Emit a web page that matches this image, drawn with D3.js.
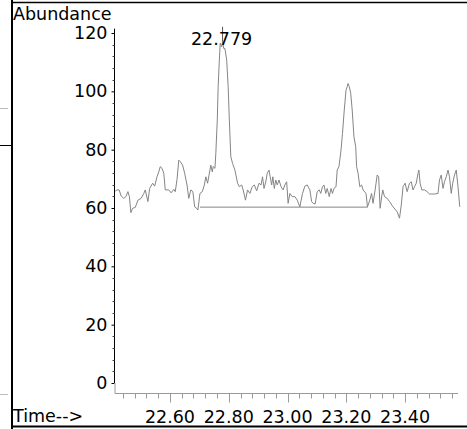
<!DOCTYPE html>
<html lang="en">

<head>
    <meta charset="utf-8">
    <title>Chromatogram</title>
    <script type="text/javascript" src="https://d3js.org/d3.v7.min.js"></script>
    <style type="text/css">
        body {
            margin: 0;
            background: #fff;
        }

        text {
            font-family: "DejaVu Sans", sans-serif;
            font-size: 17.5px;
            fill: #000;
        }
    </style>
</head>

<body>
    <svg width="467" height="429"></svg>
    <script type="text/javascript">
        //Retention time (min) and abundance
        const times = [22.414, 22.420, 22.427, 22.434, 22.443, 22.450, 22.457, 22.462, 22.467, 22.473,
            22.482, 22.491, 22.502, 22.511, 22.516, 22.525, 22.531, 22.541, 22.548, 22.556,
            22.562, 22.567, 22.573, 22.579, 22.584, 22.596, 22.604, 22.613, 22.618, 22.624,
            22.630, 22.635, 22.643, 22.650, 22.658, 22.664, 22.671, 22.678, 22.684, 22.690,
            22.695, 22.702, 22.710, 22.717, 22.722, 22.728, 22.733, 22.739, 22.744, 22.747,
            22.753, 22.756, 22.761, 22.764, 22.768, 22.771, 22.776, 22.779, 22.783, 22.787,
            22.793, 22.798, 22.802, 22.807, 22.813, 22.821, 22.830, 22.836, 22.844, 22.849,
            22.857, 22.864, 22.872, 22.880, 22.887, 22.895, 22.903, 22.910, 22.915, 22.920,
            22.926, 22.931, 22.937, 22.941, 22.946, 22.950, 22.955, 22.960, 22.965, 22.971,
            22.978, 22.985, 22.991, 22.997, 23.002, 23.008, 23.016, 23.025, 23.033, 23.042,
            23.051, 23.059, 23.067, 23.076, 23.082, 23.087, 23.094, 23.101, 23.108, 23.113,
            23.119, 23.124, 23.130, 23.135, 23.142, 23.148, 23.153, 23.158, 23.165, 23.169,
            23.175, 23.182, 23.187, 23.193, 23.199, 23.203, 23.206, 23.210, 23.215, 23.220,
            23.226, 23.232, 23.235, 23.240, 23.246, 23.252, 23.257, 23.267, 23.272, 23.280,
            23.286, 23.291, 23.298, 23.305, 23.310, 23.315, 23.321, 23.324, 23.330, 23.339,
            23.347, 23.359, 23.373, 23.381, 23.387, 23.393, 23.400, 23.407, 23.415, 23.421,
            23.427, 23.432, 23.438, 23.444, 23.447, 23.451, 23.457, 23.466, 23.475, 23.483,
            23.500, 23.512, 23.517, 23.523, 23.529, 23.534, 23.540, 23.546, 23.551, 23.557,
            23.562, 23.568, 23.574, 23.580, 23.586]
        const abundance = [65.8, 66.2, 66.2, 64.1, 63.3, 63.9, 65.6, 63.9, 58.4, 59.9,
            60.2, 62.7, 63.3, 65.0, 66.2, 62.2, 66.7, 68.5, 67.5, 70.7,
            72.4, 74.2, 73.6, 71.9, 66.2, 66.2, 65.2, 66.4, 65.6, 69.8,
            76.4, 75.9, 74.7, 71.9, 67.9, 63.3, 66.2, 65.6, 60.4, 60.0,
            59.3, 65.0, 65.6, 67.9, 70.7, 68.5, 71.3, 74.7, 72.4, 74.2,
            73.6, 78.7, 90.2, 101.6, 110.7, 116.5, 115.3, 117.0, 114.7, 114.7,
            110.7, 101.6, 90.2, 77.6, 75.3, 73.0, 68.5, 67.3, 67.9, 66.2,
            62.7, 66.2, 65.0, 67.3, 67.9, 65.9, 68.5, 67.9, 70.7, 66.7,
            69.0, 71.9, 73.0, 70.7, 67.9, 70.7, 66.7, 69.6, 67.9, 69.6,
            67.3, 66.2, 67.9, 69.0, 61.6, 65.0, 63.9, 63.9, 62.7, 60.4,
            65.0, 67.5, 67.9, 66.2, 62.2, 61.6, 61.4, 65.6, 66.2, 65.0,
            67.3, 67.9, 65.0, 66.7, 63.9, 66.7, 65.0, 66.7, 67.3, 73.0,
            74.2, 79.9, 85.6, 93.6, 100.4, 101.6, 102.7, 101.6, 99.3, 93.6,
            84.4, 81.0, 74.2, 71.9, 67.3, 67.9, 66.2, 65.0, 60.4, 62.7,
            65.0, 61.6, 66.2, 71.3, 70.7, 59.9, 64.4, 66.2, 63.9, 63.3,
            62.2, 60.4, 58.7, 56.5, 61.0, 67.3, 68.5, 65.6, 68.5, 69.0,
            66.2, 67.3, 68.5, 71.9, 73.0, 68.5, 66.2, 66.2, 65.6, 64.8,
            64.8, 65.0, 69.6, 71.3, 66.7, 69.0, 70.7, 73.0, 70.7, 65.0,
            68.5, 71.3, 73.0, 67.3, 60.4]

        //Integration baseline and labelled peak
        const baselineTimes = [22.702, 23.273]
        const baselineValues = [60.3, 60.3]
        const peakTime = 22.779
        const peakValue = 117.0
        const peakLabel = "22.779"

        //Axis ticks
        const yTickValues = [0, 20, 40, 60, 80, 100, 120]
        const xTickValues = [22.60, 22.80, 23.00, 23.20, 23.40]

        const svg = d3.select("svg");
        const w = 467;
        const h = 429;
        const traceColor = "#858585";
        const axisGray = "#9a9a9a";

        const xScale = d3.scaleLinear()
            .domain([22.413, 23.58])
            .range([115, 458]);

        const yScale = d3.scaleLinear()
            .domain([0, 120])
            .range([383, 33]);

        //Page frame left over from the printout
        svg.append("rect").attr("x", 11).attr("y", 0).attr("width", 2).attr("height", h).attr("fill", "#000");
        svg.append("line").attr("x1", 12).attr("x2", w).attr("y1", 2.5).attr("y2", 2.5)
            .attr("stroke", "#000").attr("stroke-width", 1.5);
        svg.append("line").attr("x1", 12).attr("x2", w).attr("y1", 426.5).attr("y2", 426.5)
            .attr("stroke", "#000").attr("stroke-width", 2);
        svg.append("line").attr("x1", 0).attr("x2", 11).attr("y1", 145.5).attr("y2", 145.5)
            .attr("stroke", "#000");
        [108.5, 394.5].forEach(yy => {
            svg.append("line").attr("x1", 0).attr("x2", 8).attr("y1", yy).attr("y2", yy)
                .attr("stroke", "#bbb");
        })

        //Y axis (black, minor ticks every 4)
        const leftAxis = d3.axisLeft(yScale)
            .tickValues(yTickValues)
            .tickSize(3)
            .tickPadding(4)
            .tickFormat(d3.format("d"));

        const yAxisG = svg.append("g")
            .attr("transform", "translate(114.5,0)")
            .call(leftAxis)
            .call(g => g.select(".domain").remove())
            .call(g => g.selectAll(".tick text")
                .attr("font-family", "DejaVu Sans, sans-serif")
                .attr("font-size", 17.5)
                .attr("fill", "#000"))
            .call(g => g.selectAll(".tick line").attr("stroke", "#000"));

        yAxisG.append("line")
            .attr("y1", yScale(121.5))
            .attr("y2", yScale(0))
            .attr("stroke", "#000");

        yAxisG.selectAll(".minor")
            .data(d3.range(4, 120, 4).filter(v => v % 20 !== 0))
            .enter()
            .append("line")
            .attr("x1", -2)
            .attr("x2", 0)
            .attr("y1", d => Math.round(yScale(d)) + 0.5)
            .attr("y2", d => Math.round(yScale(d)) + 0.5)
            .attr("stroke", "#444");

        //X axis (gray, 10px below zero)
        const xAxisY = 393.5;
        const xAxisG = svg.append("g")
            .attr("transform", "translate(0," + xAxisY + ")");

        xAxisG.append("path")
            .attr("d", "M" + xScale.range()[0] + "," + (yScale(0) - xAxisY) + "V0H" + xScale.range()[1])
            .attr("fill", "none")
            .attr("stroke", axisGray);

        const minorTimes = d3.range(0, 29).map(i => 22.44 + i * 0.04);
        xAxisG.selectAll(".xminor")
            .data(minorTimes)
            .enter()
            .append("line")
            .attr("x1", d => Math.round(xScale(d)) + 0.5)
            .attr("x2", d => Math.round(xScale(d)) + 0.5)
            .attr("y1", 0)
            .attr("y2", d => xTickValues.some(t => Math.abs(t - d) < 1e-6) ? 9 : 5)
            .attr("stroke", axisGray);

        xAxisG.selectAll(".xlabel")
            .data(xTickValues)
            .enter()
            .append("text")
            .attr("x", d => xScale(d))
            .attr("y", 29)
            .attr("text-anchor", "middle")
            .text(d => d3.format(".2f")(d));

        //Axis titles
        svg.append("text").attr("x", 13).attr("y", 20).text("Abundance");
        svg.append("text").attr("x", 13).attr("y", 422).text("Time-->");

        //Trace
        const points = times.map((t, i) => ({ t: t, v: abundance[i] }));
        const line = d3.line()
            .x(d => xScale(d.t))
            .y(d => yScale(d.v));

        svg.append("path")
            .datum(points)
            .attr("d", line)
            .attr("fill", "none")
            .attr("stroke", traceColor)
            .attr("stroke-width", 1);

        //Integration baseline
        svg.append("path")
            .datum(baselineTimes.map((t, i) => ({ t: t, v: baselineValues[i] })))
            .attr("d", line)
            .attr("fill", "none")
            .attr("stroke", traceColor)
            .attr("stroke-width", 1);

        //Peak marker and label
        svg.append("line")
            .attr("x1", xScale(peakTime))
            .attr("x2", xScale(peakTime))
            .attr("y1", yScale(peakValue))
            .attr("y2", yScale(peakValue) - 15)
            .attr("stroke", "#555");

        svg.append("text")
            .attr("x", xScale(peakTime) - 1)
            .attr("y", yScale(peakValue) + 3)
            .attr("text-anchor", "middle")
            .text(peakLabel);
    </script>
</body>

</html>
